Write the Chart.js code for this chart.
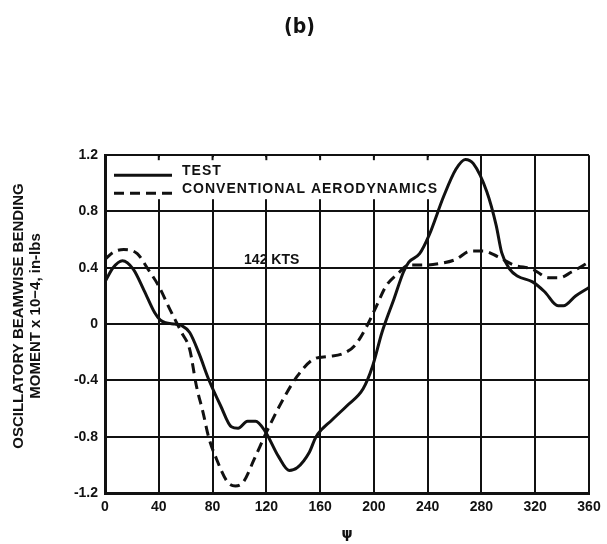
<!DOCTYPE html>
<html>
<head>
<meta charset="utf-8">
<script src="https://cdn.jsdelivr.net/npm/chart.js@4.4.1/dist/chart.umd.min.js"></script>
<style>
  html, body { margin: 0; padding: 0; background: #fff; }
  #wrap { width: 607px; height: 544px; }
</style>
</head>
<body>
<div id="wrap"><canvas id="myChart" width="607" height="544"></canvas></div>
<script>
// azimuth psi (deg) and moment
var testPsi = [0, 6, 13, 21, 29, 37, 41, 45, 52, 57, 63, 70, 77, 86, 94, 99, 106, 112, 119, 129, 137, 143, 152, 157, 169, 180, 192, 199, 206, 215, 222, 226, 234, 241, 252, 261, 268, 274, 284, 291, 295, 301, 307, 318, 327, 337, 341, 350, 360];
var testMoment = [0.30, 0.40, 0.45, 0.39, 0.24, 0.08, 0.03, 0.01, 0.00, -0.01, -0.06, -0.21, -0.39, -0.58, -0.73, -0.74, -0.69, -0.69, -0.76, -0.94, -1.04, -1.02, -0.91, -0.80, -0.68, -0.58, -0.46, -0.30, -0.06, 0.18, 0.37, 0.44, 0.50, 0.63, 0.91, 1.10, 1.17, 1.14, 0.94, 0.70, 0.51, 0.39, 0.34, 0.30, 0.23, 0.13, 0.13, 0.20, 0.26];

var convPsi = [0, 6, 14, 24, 32, 40, 48, 57, 63, 68, 73, 77, 83, 91, 97, 103, 111, 120, 131, 143, 155, 166, 177, 186, 195, 202, 209, 218, 226, 238, 249, 261, 272, 281, 292, 304, 318, 330, 338, 347, 360];
var convMoment = [0.46, 0.51, 0.53, 0.50, 0.39, 0.27, 0.11, -0.06, -0.18, -0.44, -0.63, -0.80, -0.96, -1.12, -1.15, -1.12, -0.96, -0.77, -0.56, -0.37, -0.25, -0.23, -0.21, -0.15, -0.01, 0.13, 0.27, 0.36, 0.42, 0.42, 0.43, 0.46, 0.52, 0.52, 0.48, 0.42, 0.39, 0.33, 0.33, 0.37, 0.44];

var psiTicks = [0, 40, 80, 120, 160, 200, 240, 280, 320, 360];
var momentTicks = [-1.2, -0.8, -0.4, 0, 0.4, 0.8, 1.2];

var seriesNames = ['TEST', 'CONVENTIONAL AERODYNAMICS'];
var speedLabel = '142 KTS';
var yTitle = ['OSCILLATORY BEAMWISE BENDING', 'MOMENT x 10−4, in-lbs'];

function toPoints(xs, ys) {
	return xs.map(function(x, i) { return { x: x, y: ys[i] }; });
}

var ink = '#111';

// white legend box inside the top-left of the grid, with the curves drawn over it
var legendBox = {
	id: 'legendBox',
	beforeDatasetsDraw: function(chart) {
		var ctx = chart.ctx;
		var a = chart.chartArea;
		var xs = chart.scales.x;
		var right = xs.getPixelForValue(248);
		ctx.save();
		ctx.fillStyle = '#fff';
		ctx.fillRect(a.left + 2, a.top + 2, right - a.left - 2, 42);
		// little stubs on the top border
		ctx.strokeStyle = ink;
		ctx.lineWidth = 2;
		for (var i = 1; i < 7; i++) {
			var px = xs.getPixelForValue(psiTicks[i]);
			ctx.beginPath();
			ctx.moveTo(px, a.top);
			ctx.lineTo(px, a.top + 5);
			ctx.stroke();
		}
		var sets = chart.data.datasets;
		var rows = [a.top + 18, a.top + 36];
		ctx.font = 'bold 14px "Liberation Sans", Arial, sans-serif';
		ctx.textBaseline = 'middle';
		ctx.letterSpacing = '1px';
		for (var j = 0; j < sets.length; j++) {
			ctx.strokeStyle = sets[j].borderColor;
			ctx.lineWidth = 3;
			ctx.setLineDash(sets[j].borderDash || []);
			ctx.beginPath();
			ctx.moveTo(a.left + 9, rows[j] + 2);
			ctx.lineTo(a.left + 67, rows[j] + 2);
			ctx.stroke();
			ctx.setLineDash([]);
			ctx.fillStyle = ink;
			ctx.fillText(seriesNames[j], a.left + 77, rows[j] - 2);
		}
		ctx.letterSpacing = '0px';
		// speed note
		ctx.textAlign = 'center';
		ctx.textBaseline = 'alphabetic';
		ctx.fillText(speedLabel, xs.getPixelForValue(124), chart.scales.y.getPixelForValue(0.43));
		ctx.restore();
	},
	afterDraw: function(chart) {
		// two-line y title
		var ctx = chart.ctx;
		ctx.save();
		ctx.translate(19, 316);
		ctx.rotate(-Math.PI / 2);
		ctx.font = 'bold 15px "Liberation Sans", Arial, sans-serif';
		ctx.fillStyle = ink;
		ctx.textAlign = 'center';
		ctx.textBaseline = 'middle';
		ctx.fillText(yTitle[0], 0, 0);
		ctx.fillText(yTitle[1], 0, 17);
		ctx.restore();
	}
};

var ctx = document.getElementById('myChart').getContext('2d');
new Chart(ctx, {
	type: 'line',
	data: {
		datasets: [{
			label: seriesNames[0],
			data: toPoints(testPsi, testMoment),
			borderColor: ink,
			borderWidth: 3,
			pointRadius: 0,
			cubicInterpolationMode: 'monotone',
			fill: false
		}, {
			label: seriesNames[1],
			data: toPoints(convPsi, convMoment),
			borderColor: ink,
			borderWidth: 3,
			borderDash: [10, 6],
			pointRadius: 0,
			cubicInterpolationMode: 'monotone',
			fill: false
		}]
	},
	options: {
		responsive: false,
		animation: false,
		layout: { padding: { left: 10, right: 18, top: 0, bottom: 0 } },
		plugins: {
			legend: { display: false },
			tooltip: { enabled: false },
			title: {
				display: true,
				text: '(b)',
				color: ink,
				font: { family: '"Liberation Sans Narrow", "DejaVu Sans Condensed", sans-serif', size: 21, weight: 'bold', lineHeight: 1.2 },
				padding: { top: 15, bottom: 115 }
			}
		},
		scales: {
			x: {
				type: 'linear',
				min: 0,
				max: 360,
				afterBuildTicks: function(s) { s.ticks = psiTicks.map(function(v) { return { value: v }; }); },
				afterFit: function(s) { s.height = 51; },
				grid: { color: ink, lineWidth: 2, drawTicks: false },
				border: { color: ink, width: 3 },
				ticks: {
					color: ink,
					padding: 6,
					maxRotation: 0,
					font: { family: '"Liberation Sans", Arial, sans-serif', size: 14, weight: 'bold' }
				},
				title: {
					display: true,
					text: 'ψ',
					color: ink,
					padding: { top: 0, bottom: 1 },
					font: { family: '"DejaVu Sans", sans-serif', size: 14, weight: 'bold' }
				}
			},
			y: {
				type: 'linear',
				min: -1.2,
				max: 1.2,
				afterBuildTicks: function(s) { s.ticks = momentTicks.map(function(v) { return { value: v }; }); },
				afterFit: function(s) { s.width = 95; },
				grid: { color: ink, lineWidth: 2, drawTicks: false },
				border: { color: ink, width: 3 },
				ticks: {
					color: ink,
					padding: 7,
					font: { family: '"Liberation Sans", Arial, sans-serif', size: 14, weight: 'bold' },
					callback: function(v) { return v === 0 ? '0' : v.toFixed(1); }
				}
			}
		}
	},
	plugins: [legendBox]
});
</script>
</body>
</html>
